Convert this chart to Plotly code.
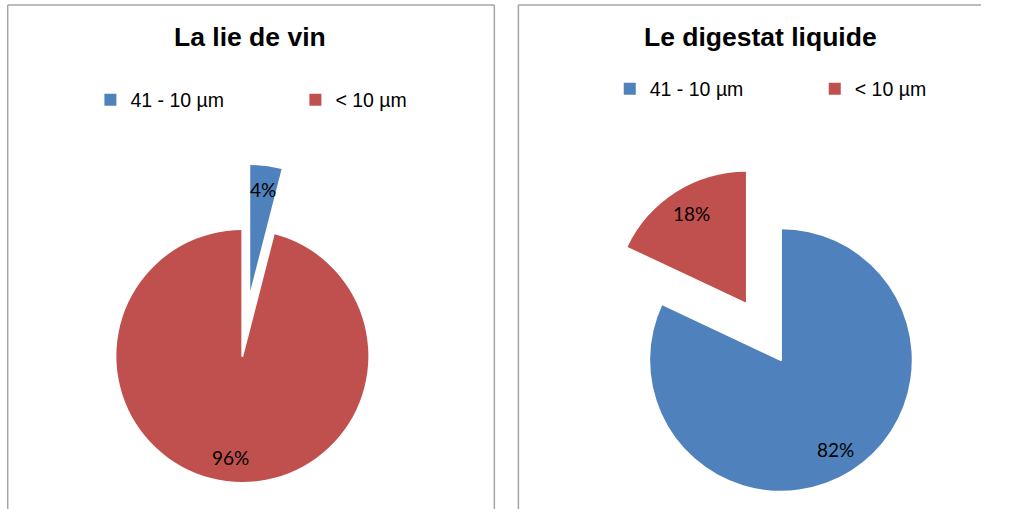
import math
import plotly.graph_objects as go

# ---------------- data ----------------
categories = ["41 - 10 µm", "< 10 µm"]
lie_de_vin = [4, 96]          # % of particles
digestat_liquide = [82, 18]   # % of particles
titles = ["La lie de vin", "Le digestat liquide"]
colors = ["#4F81BD", "#C0504D"]

# ---------------- layout constants ----------------
# the window keeps a 15 px scrollbar gutter, so the figure is made 1020 px wide
# (no overflow -> the page is captured 1:1)
W, H = 1020, 509
PULL = 0.5
LABEL_R = 0.78
LABEL_FONT = dict(family="Lato, 'Open Sans', sans-serif", size=19, color="#000000")
TEXT_FONT = "Liberation Sans, Arial, sans-serif"
BORDER = dict(color="#A6A6A6", width=1.5)

panels = [
    dict(values=lie_de_vin, title=titles[0], cx=252, cy=356, r=131, detached=0,
         legend="legend", group="g1", title_x=260, box=(8, 514), legend_x=94, legend_y=100),
    dict(values=digestat_liquide, title=titles[1], cx=812, cy=360, r=136, detached=1,
         legend="legend2", group="g2", title_x=791, box=(539, None), legend_x=634, legend_y=89),
]


def px_x(x):
    return x / W


def px_y(y):
    return 1 - y / H


def domain(cx, cy, r):
    return dict(x=[px_x(cx - r), px_x(cx + r)], y=[px_y(cy + r), px_y(cy - r)])


def mid_angle(values, i):
    tot = sum(values)
    start = sum(values[:i]) / tot * 2 * math.pi
    return start + values[i] / tot * math.pi


fig = go.Figure()
annotations = []
for p in panels:
    vals = p["values"]
    det = p["detached"]
    tot = sum(vals)
    pct = [f"{round(v / tot * 100)}%" for v in vals]
    common = dict(labels=categories, values=vals, sort=False, direction="clockwise",
                  rotation=0, hoverinfo="skip", textinfo="none")
    # main pie (legend source)
    fig.add_trace(go.Pie(
        **common, domain=domain(p["cx"], p["cy"], p["r"]),
        marker=dict(colors=colors, line=dict(width=0)),
        showlegend=True, legend=p["legend"], legendgroup=p["group"]))
    # white mask where the detached slice was
    fig.add_trace(go.Pie(
        **common, domain=domain(p["cx"], p["cy"], p["r"]),
        marker=dict(colors=[("white" if i == det else "rgba(0,0,0,0)") for i in range(len(vals))],
                    line=dict(color=[("white" if i == det else "rgba(0,0,0,0)") for i in range(len(vals))],
                              width=[(2 if i == det else 0) for i in range(len(vals))])),
        showlegend=False))
    # detached slice, offset along its bisector
    a = mid_angle(vals, det)
    ocx = p["cx"] + PULL * p["r"] * math.sin(a)
    ocy = p["cy"] - PULL * p["r"] * math.cos(a)
    fig.add_trace(go.Pie(
        **common, domain=domain(ocx, ocy, p["r"]),
        marker=dict(colors=[(colors[i] if i == det else "rgba(0,0,0,0)") for i in range(len(vals))],
                    line=dict(width=0)),
        showlegend=False))
    # percentage labels along each slice bisector
    for i in range(len(vals)):
        ai = mid_angle(vals, i)
        ccx, ccy = (ocx, ocy) if i == det else (p["cx"], p["cy"])
        lx = ccx + LABEL_R * p["r"] * math.sin(ai)
        ly = ccy - LABEL_R * p["r"] * math.cos(ai)
        annotations.append(dict(text=pct[i], xref="paper", yref="paper",
                                x=px_x(lx), y=px_y(ly), xanchor="center", yanchor="middle",
                                showarrow=False, font=LABEL_FONT))

legend_common = dict(orientation="h", entrywidth=160, entrywidthmode="pixels",
                     font=dict(family=TEXT_FONT, size=19.5, color="#000000"),
                     bgcolor="rgba(0,0,0,0)", xanchor="left", yanchor="middle",
                     traceorder="normal")

shapes = []
legends = {}
for p in panels:
    x0, x1 = p["box"]
    top = px_y(5)
    # panel frame (kept inside the page so nothing overflows)
    shapes.append(dict(type="line", xref="paper", yref="paper", x0=px_x(x0), x1=px_x(x0),
                       y0=0, y1=top, line=BORDER, layer="below"))
    shapes.append(dict(type="line", xref="paper", yref="paper", x0=px_x(x0),
                       x1=(px_x(x1) if x1 is not None else 1.0),
                       y0=top, y1=top, line=BORDER, layer="below"))
    if x1 is not None:
        shapes.append(dict(type="line", xref="paper", yref="paper", x0=px_x(x1), x1=px_x(x1),
                           y0=0, y1=top, line=BORDER, layer="below"))
    annotations.append(dict(text=f"<b>{p['title']}</b>", xref="paper", yref="paper",
                            x=px_x(p["title_x"]), y=px_y(37), xanchor="center", yanchor="middle",
                            showarrow=False, font=dict(family=TEXT_FONT, size=26.5, color="#000000")))
    legends[p["legend"]] = dict(**legend_common, x=px_x(p["legend_x"]), y=px_y(p["legend_y"]))

fig.update_layout(
    width=W, height=H, autosize=False,
    margin=dict(l=0, r=0, t=0, b=0),
    paper_bgcolor="white", plot_bgcolor="white",
    shapes=shapes, annotations=annotations,
    **legends,
)

fig.write_html(
    "out.html",
    config={"displayModeBar": False, "responsive": False},
    post_script=("document.documentElement.style.overflow='hidden';"
                 "document.body.style.overflow='hidden';"
                 "document.body.style.margin='0px';"),
)
